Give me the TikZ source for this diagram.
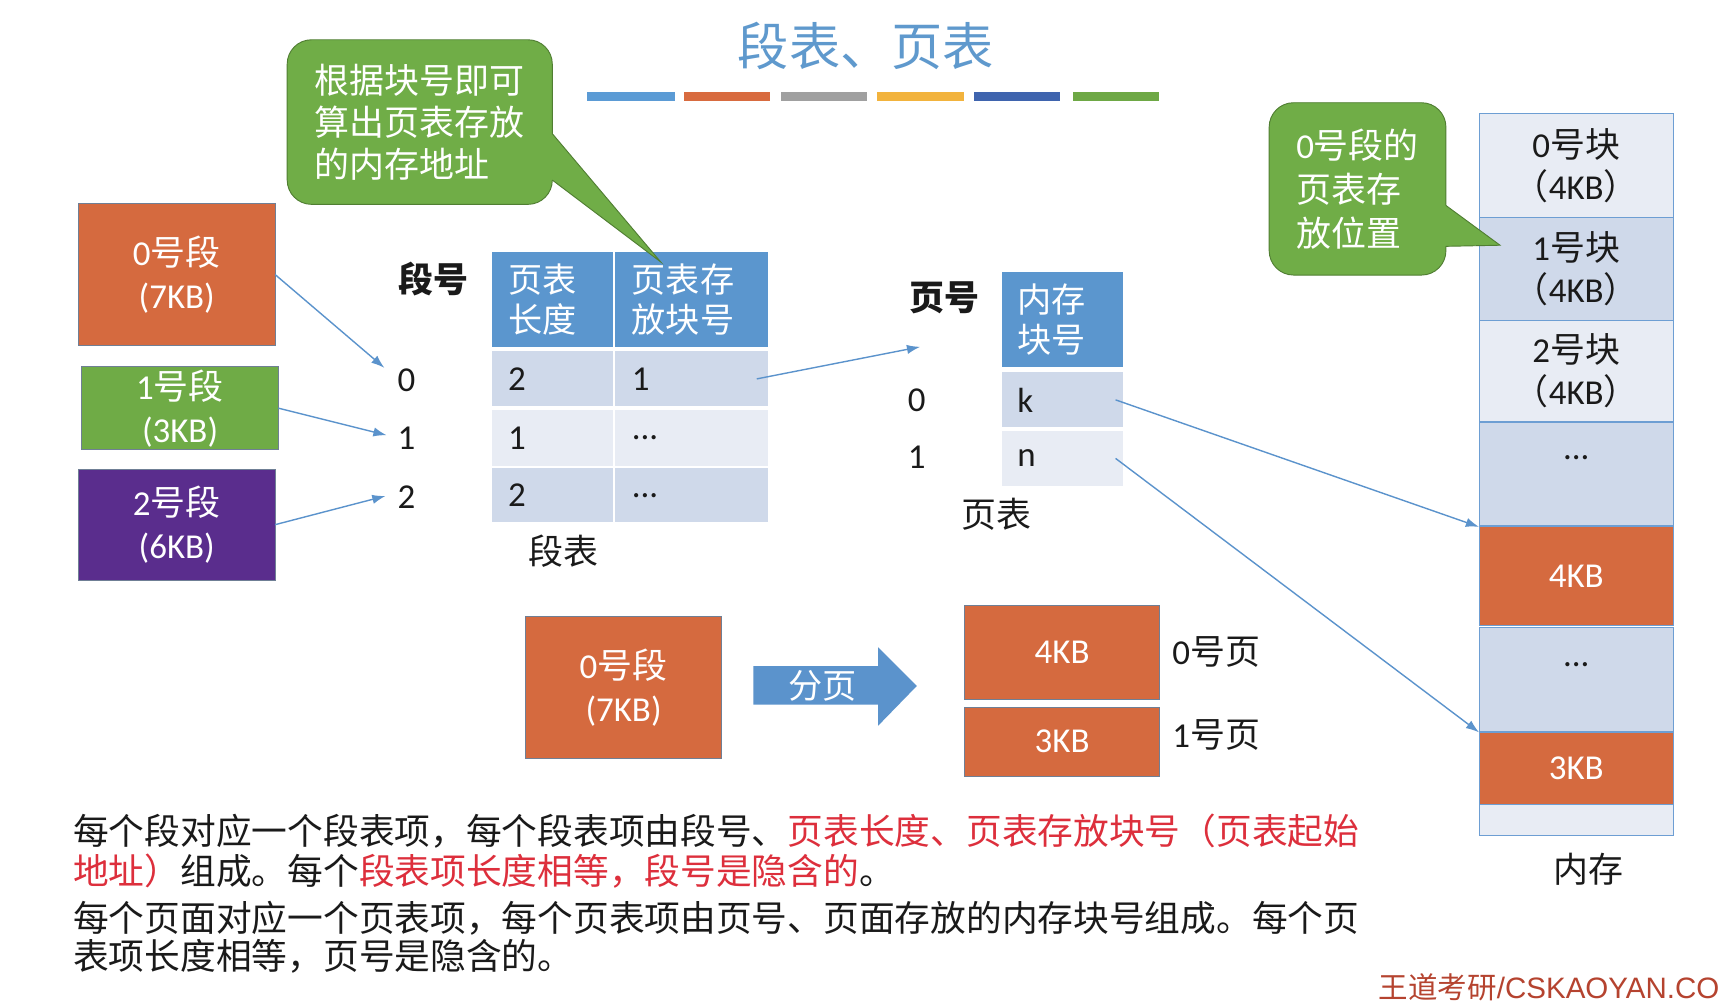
\documentclass[tikz,border=0pt]{standalone}
\usepackage{fontspec}
\setmainfont{Noto Sans CJK SC}
\newfontfamily\lat{Carlito}
\newfontfamily\arl{Liberation Sans}
\usetikzlibrary{arrows.meta}
\definecolor{txt}{HTML}{1A1A1A}
\definecolor{titlec}{HTML}{5F99CD}
\definecolor{arrc}{HTML}{5B93CC}
\definecolor{hdrc}{HTML}{5B96CE}
\definecolor{rowd}{HTML}{CFD9EA}
\definecolor{rowl}{HTML}{E8ECF4}
\definecolor{memb}{HTML}{6D9ED3}
\definecolor{org}{HTML}{D56A3F}
\definecolor{obord}{HTML}{6F7F95}
\definecolor{grn}{HTML}{6FAB46}
\definecolor{prp}{HTML}{5A2D8D}
\definecolor{cg}{HTML}{70AD47}
\definecolor{cgd}{HTML}{507E32}
\definecolor{hred}{HTML}{DD2F3C}
\definecolor{wmc}{HTML}{B5432F}
\definecolor{barA}{HTML}{5B9BD5}
\definecolor{barB}{HTML}{D86B3F}
\definecolor{barC}{HTML}{A0A0A0}
\definecolor{barD}{HTML}{F2B33D}
\definecolor{barE}{HTML}{3F64AE}
\definecolor{barF}{HTML}{6EA845}
\newcommand\fz[2]{\fontsize{#1pt}{#2pt}\selectfont}
\tikzset{
  wh/.style 2 args={minimum width=#1*0.025cm, minimum height=#2*0.025cm},
  box/.style={inner sep=0pt, outer sep=0pt, align=center, text=white, font=\fz{22.5}{27.7}},
  obox/.style={box, fill=org, draw=obord, line width=0.5pt},
  hcell/.style={inner sep=0pt, outer sep=0pt, fill=hdrc, text=white, align=left, font=\fz{22}{25.6}},
  dcell/.style={inner sep=0pt, outer sep=0pt, fill=rowd, text=txt, align=left, font=\fz{22.5}{27}},
  lcell/.style={inner sep=0pt, outer sep=0pt, fill=rowl, text=txt, align=left, font=\fz{22.5}{27}},
  mcell/.style={inner sep=0pt, outer sep=0pt, draw=memb, line width=0.7pt, align=center, text=txt, font=\fz{22.5}{27}},
  lbl/.style={inner sep=0pt, outer sep=0pt, text=txt, font=\fz{22.5}{27}},
  blbl/.style={lbl, font=\fz{22.5}{27}\bfseries},
  conn/.style={draw=arrc, line width=0.9pt, -{Latex[length=8.5pt,width=6pt]}},
  cbub/.style={fill=cg, draw=cgd, line width=0.6pt, rounded corners=0.55cm, text=white, align=left, inner sep=0pt},
  btxt/.style={inner sep=0pt, anchor=west, text=txt, font=\fz{23}{26}},
}
\begin{document}
\begin{tikzpicture}[x=0.025cm, y=-0.025cm]
\useasboundingbox (0,0) rectangle (1568,910);
\fill[white] (0,0) rectangle (1568,910);
\clip (0,0) rectangle (1568,910);

% title and colour bars
\node[inner sep=0pt, text=titlec, font=\fz{33}{36}] (title) at (784,42) {段表、页表};
\fill[barA] (531,83) rectangle (611,91);
\fill[barB] (619,83) rectangle (697,91);
\fill[barC] (707,83) rectangle (785,91);
\fill[barD] (794,83) rectangle (873,91);
\fill[barE] (882,83) rectangle (960,91);
\fill[barF] (971,83) rectangle (1049,91);

% left segments
\node[obox, wh={178}{129}] (s0) at (160,248.5) {{\lat 0}号段\\{\lat (7KB)}};
\node[box, fill=grn, draw=obord, line width=0.5pt, wh={178}{75}] (s1) at (163,369.5) {{\lat 1}号段\\{\lat (3KB)}};
\node[box, fill=prp, draw=obord, line width=0.5pt, wh={178}{100}] (s2) at (160,475) {{\lat 2}号段\\{\lat (6KB)}};

\node[lbl, font=\fz{22.5}{27}\lat] (n0) at (368,344) {0};
\node[lbl, font=\fz{22.5}{27}\lat] (n1) at (368,397) {1};
\node[lbl, font=\fz{22.5}{27}\lat] (n2) at (368,450) {2};
\draw[conn] (s0.east) -- ([shift={(-12,-11)}]n0.west);
\draw[conn] (s1.east) -- ([shift={(-10,-3)}]n1.west);
\draw[conn] (s2.east) -- ([shift={(-11,-1)}]n2.west);

\node[blbl] (dh) at (392,253) {段号};

% segment table
\node[hcell, wh={110}{86}, text width=2cm] (h1) at (500,271) {页表\\长度};
\node[hcell, wh={138}{86}, text width=2.7cm] (h2) at (626,271) {页表存\\放块号};
\node[dcell, wh={110}{50}, text width=2cm] (a0) at (500,343) {\lat 2};
\node[dcell, wh={138}{50}, text width=2.7cm] (b0) at (626,343) {\lat 1};
\node[lcell, wh={110}{51}, text width=2cm] (a1) at (500,396.5) {\lat 1};
\node[lcell, wh={138}{51}, text width=2.7cm] (b1) at (626,396.5) {\lat ...};
\node[dcell, wh={110}{49}, text width=2cm] (a2) at (500,448.5) {\lat 2};
\node[dcell, wh={138}{49}, text width=2.7cm] (b2) at (626,448.5) {\lat ...};
\node[lbl] (st) at (510,499) {段表};

\coordinate (ptin) at (833,314);
\draw[conn] ([xshift=-7]b0.east) -- (ptin);

% page table
\node[blbl] (ph) at (855,270) {页号};
\node[lbl, font=\fz{22.5}{27}\lat] (q0) at (830,362) {0};
\node[lbl, font=\fz{22.5}{27}\lat] (q1) at (830,414) {1};
\node[hcell, wh={110}{86}, text width=2.05cm] (ph1) at (962,289) {内存\\块号};
\node[dcell, wh={110}{50}, text width=2.05cm] (pk) at (962,362) {\lat k};
\node[lcell, wh={110}{50}, text width=2.05cm] (pn) at (962,415) {\lat n};
\node[lbl] (pt) at (902,466) {页表};

% memory
\node[mcell, fill=rowl, wh={176}{94}] (m0) at (1427,150) {{\lat 0}号块\\（{\lat 4KB}）};
\node[mcell, fill=rowd, wh={176}{93}] (m1) at (1427,243.5) {{\lat 1}号块\\（{\lat 4KB}）};
\node[mcell, fill=rowl, wh={176}{92}] (m2) at (1427,336) {{\lat 2}号块\\（{\lat 4KB}）};
\node[mcell, fill=rowd, wh={176}{94}] (m3) at (1427,429) {};
\node[lbl, font=\fz{22.5}{27}\lat] (d3) at (1427,414) {...};
\node[mcell, fill=org, text=white, wh={176}{89}] (m4) at (1427,521.5) {\lat 4KB};
\node[mcell, fill=rowd, wh={176}{94}] (m5) at (1427,615) {};
\node[lbl, font=\fz{22.5}{27}\lat] (d5) at (1427,602) {...};
\node[mcell, fill=org, text=white, wh={176}{65}] (m6) at (1427,695.5) {\lat 3KB};
\node[mcell, fill=rowl, wh={176}{28}] (m7) at (1427,742) {};
\node[lbl] (mem) at (1438,787) {内存};

\draw[conn] ([xshift=-5]pk.east) -- (m4.north west);
\draw[conn] ([xshift=-5]pn.east) -- (m6.north west);

% callouts
\node[cbub, wh={240}{149}, font=\fz{22.5}{27}] (c1) at (380,110.5) {根据块号即可\\算出页表存放\\的内存地址};
\fill[cg] (493,121) -- (500,121) -- (598,237) -- (500,163) -- (493,163) -- cycle;
\draw[cgd, line width=0.6pt] (500,121) -- (598,237) -- (500,163);

\node[cbub, wh={160}{156}, font=\fz{22.5}{28.4}] (c2) at (1229,171) {{\lat 0}号段的\\页表存\\放位置};
\fill[cg] (1302,186) -- (1309,186) -- (1358,222) -- (1309,223) -- (1302,223) -- cycle;
\draw[cgd, line width=0.6pt] (1309,186) -- (1358,222) -- (1309,223);

% paging illustration
\node[obox, wh={177}{129}] (ob) at (564.5,622.5) {{\lat 0}号段\\{\lat (7KB)}};
\fill[arrc] (682,603) -- (795,603) -- (795,586) -- (830,621) -- (795,657) -- (795,638) -- (682,638) -- cycle;
\node[inner sep=0pt, text=white, font=\fz{22}{26}] (fy) at (745,621) {分页};
\node[obox, wh={177}{85}, font=\fz{22.5}{27}\lat] (p0) at (961.5,590.5) {4KB};
\node[obox, wh={177}{63}, font=\fz{22.5}{27}\lat] (p1) at (961.5,671.5) {3KB};
\node[lbl] (y0) at (1101,590) {{\lat 0}号页};
\node[lbl] (y1) at (1101,665) {{\lat 1}号页};

% bottom text
\node[btxt] (t1) at (66,752) {每个段对应一个段表项，每个段表项由段号、\textcolor{hred}{页表长度、页表存放块号（页表起始}};
\node[btxt] (t2) at (66,789) {\textcolor{hred}{地址）}组成。每个\textcolor{hred}{段表项长度相等，段号是隐含的}。};
\node[btxt] (t3) at (66,831) {每个页面对应一个页表项，每个页表项由页号、页面存放的内存块号组成。每个页};
\node[btxt] (t4) at (66,866) {表项长度相等，页号是隐含的。};

% watermark
\node[inner sep=0pt, anchor=base west, text=wmc, font=\fz{19}{22}] (wm) at (1248,904) {王道考研{\arl /CSKAOYAN.CO}};
\end{tikzpicture}
\end{document}
